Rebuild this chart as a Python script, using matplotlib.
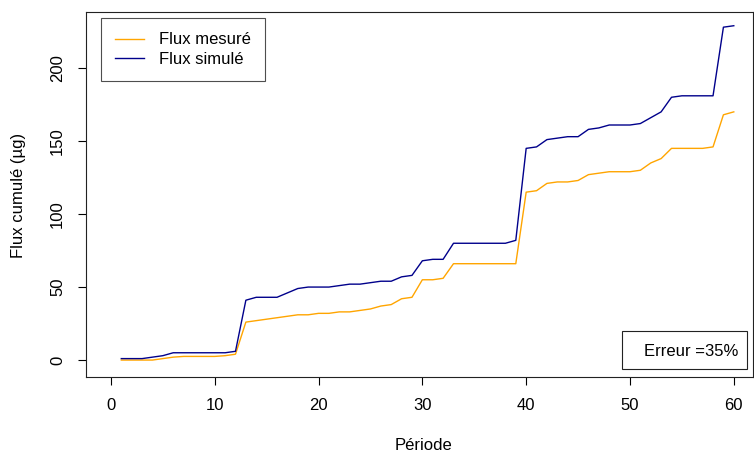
import numpy as np
import matplotlib.pyplot as plt
from matplotlib.patches import Rectangle

plt.rcParams['font.family'] = ['Liberation Sans', 'DejaVu Sans']

periode = list(range(1, 61))
flux_mesure = [0, 0, 0, 0, 1, 2, 2.5, 2.5, 2.5, 2.5, 3, 4,
               26, 27, 28, 29, 30, 31, 31, 32, 32, 33, 33, 34, 35, 37, 38, 42, 43,
               55, 55, 56, 66, 66, 66, 66, 66, 66, 66,
               115, 116, 121, 122, 122, 123, 127, 128, 129, 129, 129, 130, 135, 138,
               145, 145, 145, 145, 146, 168, 170]
flux_simule = [1, 1, 1, 2, 3, 5, 5, 5, 5, 5, 5, 6,
               41, 43, 43, 43, 46, 49, 50, 50, 50, 51, 52, 52, 53, 54, 54, 57, 58,
               68, 69, 69, 80, 80, 80, 80, 80, 80, 82,
               145, 146, 151, 152, 153, 153, 158, 159, 161, 161, 161, 162, 166, 170,
               180, 181, 181, 181, 181, 228, 229]
erreur = "Erreur =35%"

W, H = 754, 454
fig = plt.figure(figsize=(7.54, 4.54), dpi=100)
ax = fig.add_axes([86 / W, 1 - 377 / H, (753 - 86) / W, (377 - 12) / H])

ax.plot(periode, flux_mesure, color='orange', lw=1, label='Flux mesuré')
ax.plot(periode, flux_simule, color='darkblue', lw=1, label='Flux simulé')

# same scale as the original R plot
ax.set_xlim(-2.4, 61.85)
ax.set_ylim(-11.6, 238.4)
ax.set_xticks([0, 10, 20, 30, 40, 50, 60])
ax.set_yticks([0, 50, 100, 150, 200])
ax.tick_params(direction='out', length=6, width=0.8, labelsize=12, pad=9)
for lab in ax.get_yticklabels():
    lab.set_rotation(90)
    lab.set_va('center')
for s in ax.spines.values():
    s.set_color('#222222')

fig.text(423 / W, 1 - 446 / H, 'Période', fontsize=12, ha='center', va='center')
fig.text(19 / W, 1 - 195 / H, 'Flux cumulé (µg)', fontsize=12, ha='center',
         va='center', rotation=90)

leg = ax.legend(loc='upper left', bbox_to_anchor=(0.0225, 0.983), fontsize=12,
                frameon=True, fancybox=False, edgecolor='#222222',
                handlelength=1.75, handletextpad=0.9, borderpad=0.85,
                labelspacing=0.26, borderaxespad=0)
leg.get_frame().set_linewidth(0.8)

# error box, bottom right
fig.add_artist(Rectangle((622 / W, 1 - 369 / H), 125 / W, 38 / H,
                         transform=fig.transFigure, fc='white', ec='#222222', lw=0.8))
fig.text(738 / W, 1 - 351 / H, erreur, fontsize=12, ha='right', va='center')

fig.savefig('out.png', dpi=100)
